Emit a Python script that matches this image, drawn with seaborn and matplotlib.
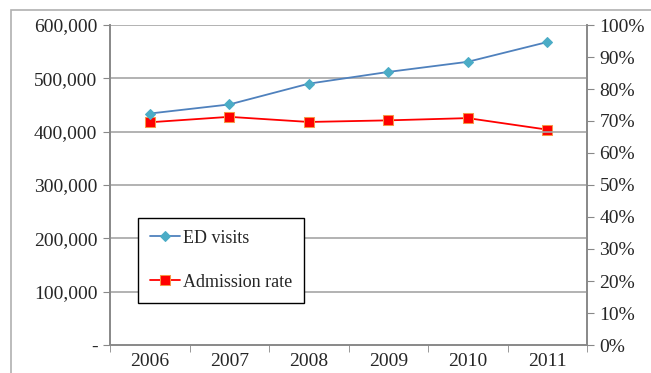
import pandas as pd
import numpy as np
import matplotlib
matplotlib.use("Agg")
import matplotlib.pyplot as plt
import seaborn as sns
from matplotlib.ticker import FuncFormatter, FixedLocator
from matplotlib.patches import Rectangle

# data
years = ["2006", "2007", "2008", "2009", "2010", "2011"]
ed_visits = [434000, 451000, 490000, 512000, 531000, 568000]
admission_rate = [0.696, 0.713, 0.697, 0.702, 0.709, 0.673]

df = pd.DataFrame({"year": years, "ED visits": ed_visits, "Admission rate": admission_rate})
df["x"] = np.arange(len(years))

sns.set_style("white")
plt.rcParams["font.family"] = ["Liberation Serif", "DejaVu Serif"]
plt.rcParams["font.size"] = 14

fig = plt.figure(figsize=(6.51, 3.73), dpi=100)
ax = fig.add_axes([110 / 651, 1 - 345 / 373, 477 / 651, 320 / 373])
ax2 = ax.twinx()

# outer chart frame
fig.patches.append(Rectangle((11 / 651, -0.1), 1.2, 1 - 10 / 373 + 0.1, transform=fig.transFigure,
                             fill=False, edgecolor="#b0b0b0", lw=1.2, zorder=0))

sns.lineplot(data=df, x="x", y="ED visits", ax=ax, color="#4F81BD", lw=1.3,
             marker="D", markersize=5.5, markerfacecolor="#4BACC6", markeredgecolor="#4BACC6",
             label="ED visits", legend=False)
sns.lineplot(data=df, x="x", y="Admission rate", ax=ax2, color="#FF0000", lw=1.3,
             marker="s", markersize=7, markerfacecolor="#FF0000", markeredgecolor="#F79646",
             label="Admission rate", legend=False)

ax.set_xlim(-0.5, 5.5)
ax.set_ylim(0, 600000)
ax2.set_ylim(0, 1)
ax.set_xlabel("")
ax.set_ylabel("")
ax2.set_ylabel("")

ax.set_yticks(np.arange(0, 600001, 100000))
ax.yaxis.set_major_formatter(FuncFormatter(lambda v, p: "-" if v == 0 else f"{int(v):,}"))
ax2.set_yticks(np.arange(0, 1.01, 0.1))
ax2.yaxis.set_major_formatter(FuncFormatter(lambda v, p: f"{v * 100:.0f}%"))

ax.set_xticks(df["x"])
ax.set_xticklabels(years)
ax.xaxis.set_minor_locator(FixedLocator(np.arange(-0.5, 5.6, 1)))
ax.tick_params(axis="x", which="major", length=0, pad=6)
ax.tick_params(axis="x", which="minor", length=5, color="#888888", direction="out", bottom=True)
ax.tick_params(axis="y", length=5, color="#888888", direction="out", left=True, pad=4)
ax2.tick_params(axis="y", length=5, color="#888888", direction="out", right=True, pad=4)

ax.grid(axis="y", color="#a6a6a6", lw=1.2)
for a in (ax, ax2):
    a.spines["top"].set_visible(False)
    for s in ("left", "right", "bottom"):
        a.spines[s].set_color("#888888")
        a.spines[s].set_linewidth(1.2)
ax.set_zorder(ax2.get_zorder() + 1)
ax.patch.set_visible(False)

h1, l1 = ax.get_legend_handles_labels()
h2, l2 = ax2.get_legend_handles_labels()
leg = ax.legend(h1 + h2, l1 + l2, loc="upper left", bbox_to_anchor=(28 / 477, 127 / 320),
                borderaxespad=0, frameon=True, fancybox=False, edgecolor="black", framealpha=1,
                labelspacing=1.5, handlelength=1.7, handletextpad=0.15, borderpad=0.65,
                fontsize=13)
leg.get_frame().set_linewidth(1.0)

fig.savefig("out.png", dpi=100)
